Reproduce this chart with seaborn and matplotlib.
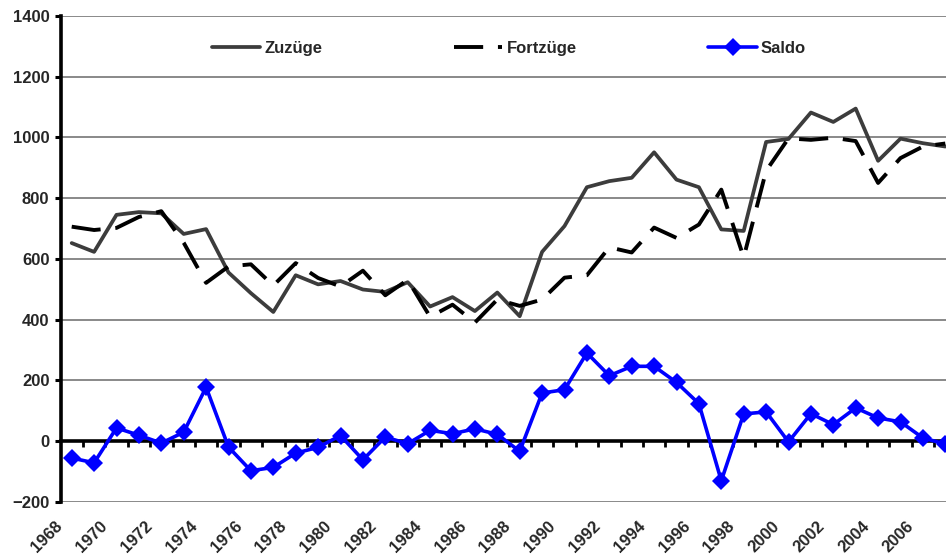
import matplotlib
matplotlib.use("Agg")
import matplotlib.pyplot as plt
from matplotlib.transforms import ScaledTranslation
import seaborn as sns
import pandas as pd

years = list(range(1968, 2008))
zuzuege = [652, 623, 745, 754, 750, 682, 698, 555, 487, 425,
           546, 516, 527, 499, 491, 523, 443, 474, 428, 489,
           411, 623, 708, 836, 856, 867, 951, 861, 836, 697,
           692, 985, 995, 1082, 1051, 1095, 923, 996, 981, 970]
fortzuege = [706, 695, 702, 738, 757, 653, 521, 575, 582, 512,
             586, 537, 509, 561, 480, 531, 409, 449, 390, 466,
             445, 466, 538, 546, 638, 621, 703, 669, 713, 828,
             605, 890, 997, 992, 999, 988, 850, 932, 970, 980]
saldo = [-56, -72, 43, 19, -7, 29, 177, -20, -98, -87,
         -40, -21, 18, -62, 13, -9, 35, 24, 40, 22,
         -34, 158, 169, 290, 215, 246, 246, 193, 123, -131,
         89, 96, -3, 90, 54, 109, 76, 63, 10, -10]
series_names = ["Zuzüge", "Fortzüge", "Saldo"]
y_ticks = list(range(-200, 1401, 200))
x_label_years = years[::2]

df = pd.DataFrame({"Jahr": years, "Zuzüge": zuzuege,
                   "Fortzüge": fortzuege, "Saldo": saldo})

sns.set_style("white")
plt.rcParams["font.family"] = ["Liberation Sans", "DejaVu Sans"]
plt.rcParams["font.weight"] = "bold"

fig = plt.figure(figsize=(9.46, 5.57), dpi=100)
ax = fig.add_axes([60.5 / 946, 55.3 / 557, 896 / 946, 485.7 / 557])

sns.lineplot(data=df, x="Jahr", y="Zuzüge", ax=ax, color="#3c3c3c",
             lw=2.7, label=series_names[0], zorder=3)
sns.lineplot(data=df, x="Jahr", y="Fortzüge", ax=ax, color="black",
             lw=2.8, linestyle=(0, (7.5, 3.8)), label=series_names[1], zorder=3)
sns.lineplot(data=df, x="Jahr", y="Saldo", ax=ax, color="#0000ff",
             lw=2.6, marker="D", markersize=9, markeredgewidth=0,
             label=series_names[2], zorder=4)

ax.set_xlim(1967.5, 2007.5)
ax.set_ylim(-200, 1400)
ax.set_xlabel("")
ax.set_ylabel("")

# grid
ax.set_yticks(y_ticks)
ax.yaxis.grid(True, color="#6a6a6a", lw=1.1)
ax.xaxis.grid(False)
ax.set_axisbelow(True)

# spines
for s in ["top", "right"]:
    ax.spines[s].set_visible(False)
ax.spines["left"].set_linewidth(2.6)
ax.spines["left"].set_color("black")
ax.spines["bottom"].set_position(("data", 0))
ax.spines["bottom"].set_linewidth(2.6)
ax.spines["bottom"].set_color("black")
ax.spines["bottom"].set_zorder(2.6)

ax.tick_params(axis="y", direction="out", length=4, width=2.2, color="black",
               pad=4, labelsize=12, left=True)
for lab in ax.get_yticklabels():
    lab.set_fontweight("bold")

# category boundary ticks on the zero line
ax.set_xticks([])
ax.set_xticks([y + 0.5 for y in years[:-1]], minor=True)
ax.tick_params(axis="x", which="minor", direction="out", length=4, width=2,
               color="black", bottom=True, labelbottom=False)

# year labels at the bottom
sec = ax.secondary_xaxis("bottom")
sec.set_xticks(x_label_years, [str(y) for y in x_label_years])
sec.spines["bottom"].set_visible(False)
sec.tick_params(axis="x", length=0, pad=12, labelsize=12)
off = ScaledTranslation(-0.06, 0, fig.dpi_scale_trans)
for lab in sec.get_xticklabels():
    lab.set_rotation(45)
    lab.set_ha("right")
    lab.set_va("top")
    lab.set_fontweight("bold")
    lab.set_transform(lab.get_transform() + off)

leg = ax.legend(loc="center", bbox_to_anchor=(0.5006, 0.934), ncol=3,
                frameon=False, handlelength=2.9, handletextpad=0.25,
                columnspacing=7.9, prop={"size": 12, "weight": "bold"})

fig.savefig("out.png", dpi=100)
